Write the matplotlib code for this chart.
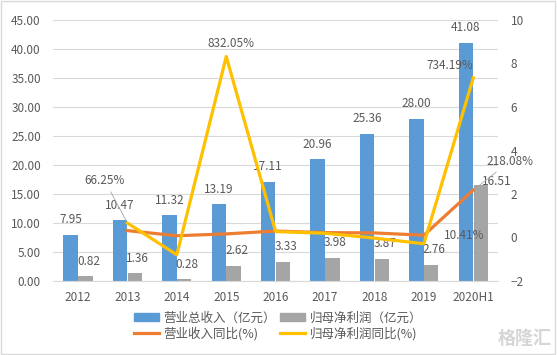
import numpy as np
import matplotlib

matplotlib.use('Agg')
import matplotlib.pyplot as plt
from matplotlib.patches import Patch, Rectangle
from matplotlib.lines import Line2D

plt.rcParams['font.family'] = ['Noto Sans CJK SC', 'DejaVu Sans']

years = ['2012', '2013', '2014', '2015', '2016', '2017', '2018', '2019', '2020H1']
revenue = [7.95, 10.47, 11.32, 13.19, 17.11, 20.96, 25.36, 28.00, 41.08]
profit = [0.82, 1.36, 0.28, 2.62, 3.33, 3.98, 3.87, 2.76, 16.51]
# year-on-year growth, in percent (2012 has no value)
revenue_yoy = [np.nan, 31.70, 8.12, 16.52, 29.72, 22.50, 20.99, 10.41, 218.08]
profit_yoy = [np.nan, 66.25, -79.41, 832.05, 27.10, 19.52, -2.76, -28.68, 734.19]

BLUE = '#5B9BD5'
GRAY = '#A5A5A5'
ORANGE = '#ED7D31'
YELLOW = '#FFC000'
TEXT = '#595959'

W, H = 557, 355
fig = plt.figure(figsize=(W / 100, H / 100), dpi=100)
fig.patches.append(Rectangle((0.002, 0.003), 0.995, 0.994, transform=fig.transFigure,
                             fill=False, edgecolor='#D9D9D9', lw=1.0))

left, right, top, bottom = 53.3, 498, 20, 281
ax = fig.add_axes([left / W, 1 - bottom / H, (right - left) / W, (bottom - top) / H])
ax2 = ax.twinx()

x = np.arange(len(years))
bw = 0.29
ax.bar(x - 0.15, revenue, bw, color=BLUE, zorder=2)
ax.bar(x + 0.15, profit, bw, color=GRAY, zorder=2)

for i, v in enumerate(revenue):
    ax.annotate(f'{v:.2f}', (x[i] - 0.15, v), xytext=(0, 15), textcoords='offset pixels',
                ha='center', va='center', fontsize=8.5, color=TEXT)
for i, v in enumerate(profit):
    # the 2020H1 label sits to the right, just over the bar top
    dx, dy = (16, 4) if i == len(profit) - 1 else (3, 15)
    ax.annotate(f'{v:.2f}', (x[i] + 0.15, v), xytext=(dx, dy), textcoords='offset pixels',
                ha='center', va='center', fontsize=8.5, color=TEXT, zorder=5)

ax.set_xlim(-0.5, len(years) - 0.5)
ax.set_ylim(0, 45)
ax.set_yticks(np.arange(0, 46, 5))
ax.set_yticklabels([f'{t:.2f}' for t in np.arange(0, 46, 5)])
ax.set_xticks(x)
ax.set_xticklabels(years)
ax.grid(axis='y', color='#D9D9D9', lw=0.8, zorder=0)
ax.set_axisbelow(True)

ry = np.array(revenue_yoy) / 100
py = np.array(profit_yoy) / 100
ax2.plot(x, ry, color=ORANGE, lw=2.3, zorder=3)
ax2.plot(x, py, color=YELLOW, lw=2.3, zorder=4)
ax2.set_ylim(-2, 10)
ax2.set_yticks(np.arange(-2, 11, 2))

lead = dict(arrowstyle='-', color='#A6A6A6', lw=0.6, shrinkA=2, shrinkB=2)
ax2.annotate('66.25%', (x[1], py[1]), xytext=(-23, 43), textcoords='offset pixels',
             ha='center', va='center', fontsize=8.5, color=TEXT, arrowprops=lead)
ax2.annotate('832.05%', (x[3], py[3]), xytext=(5, 13), textcoords='offset pixels',
             ha='center', va='center', fontsize=8.5, color=TEXT)
ax2.annotate('734.19%', (x[8], py[8]), xytext=(-23, 12), textcoords='offset pixels',
             ha='center', va='center', fontsize=8.5, color=TEXT, arrowprops=lead)
ax2.annotate('218.08%', (x[8], ry[8]), xytext=(37, 29), textcoords='offset pixels',
             ha='center', va='center', fontsize=8.5, color=TEXT, arrowprops=lead)
ax2.annotate('10.41%', (x[7], ry[7]), xytext=(40, 0), textcoords='offset pixels',
             ha='center', va='center', fontsize=8.5, color=TEXT)

for a in (ax, ax2):
    for s in a.spines.values():
        s.set_visible(False)
    a.tick_params(length=0, colors=TEXT, labelsize=8.5)
ax.spines['bottom'].set_visible(True)
ax.spines['bottom'].set_color('#D9D9D9')
ax.tick_params(axis='x', pad=7)
ax.tick_params(axis='y', pad=9)
ax2.tick_params(axis='y', pad=9)

handles = [Patch(color=BLUE), Line2D([], [], color=ORANGE, lw=2.3),
           Patch(color=GRAY), Line2D([], [], color=YELLOW, lw=2.3)]
labels = ['营业总收入（亿元）', '营业收入同比(%)', '归母净利润（亿元）', '归母净利润同比(%)']
fig.legend(handles, labels, ncol=2, loc='center', bbox_to_anchor=(278 / W, 1 - 326 / H),
           frameon=False, fontsize=9, labelcolor=TEXT, handlelength=2.0,
           handleheight=0.6, columnspacing=0.3, labelspacing=0.15, handletextpad=0.4)

fig.text(525 / W, 1 - 338 / H, '格隆汇', fontsize=13, color='#D6D6D6',
         ha='center', va='center', fontweight='bold')

fig.savefig('out.png', dpi=100)
